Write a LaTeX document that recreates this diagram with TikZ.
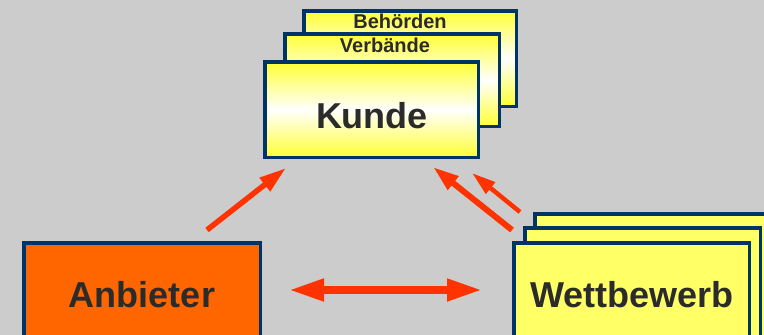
\documentclass[tikz,border=0pt]{standalone}
\usepackage{fontspec}
\setmainfont{Liberation Sans}
\usetikzlibrary{arrows.meta}
\definecolor{bg}{HTML}{CCCCCC}
\definecolor{frame}{HTML}{003366}
\definecolor{ylw}{HTML}{FFFF33}
\definecolor{ylwflat}{HTML}{FFFF66}
\definecolor{orng}{HTML}{FF6600}
\definecolor{arr}{HTML}{FF3300}
\definecolor{txt}{HTML}{2B2B2B}
\tikzset{
  box/.style={draw=frame, line width=3.5pt, inner sep=0pt, outer sep=0pt},
  gradbox/.style={box, top color=ylw, bottom color=ylw, middle color=white},
  flatbox/.style={box, fill=ylwflat},
  orangebox/.style={box, fill=orng},
  bigtext/.style={font=\fontsize{36}{40}\selectfont\bfseries, text=txt, anchor=base, inner sep=0pt},
  smalltext/.style={font=\fontsize{20}{22}\selectfont\bfseries, text=txt, anchor=base, inner sep=0pt},
  arrowline/.style={draw=arr, line cap=butt},
}
\begin{document}
\begin{tikzpicture}[x=1pt,y=-1pt]
\fill[bg] (0,0) rectangle (764,335);
\useasboundingbox (0,0) rectangle (764,335);
\clip (0,0) rectangle (764,335);
% Kunde stack
\node[gradbox, minimum width=212.5pt, minimum height=95.5pt] (behoerden) at (410,58.5) {};
\node[smalltext] (tbeh) at (400,28) {Behörden};
\node[gradbox, minimum width=214.5pt, minimum height=92.5pt] (verbaende) at (392,80) {};
\node[smalltext] (tverb) at (385,52) {Verbände};
\node[gradbox, minimum width=213.5pt, minimum height=95.5pt] (kunde) at (371.5,109.5) {};
\node[bigtext] (tkunde) at (372,128) {Kunde};
% Anbieter
\node[orangebox, minimum width=236.5pt, minimum height=105.5pt] (anbieter) at (142,295.5) {};
\node[bigtext] (tanb) at (142,307) {Anbieter};
% Wettbewerb stack
\node[flatbox, minimum width=235.5pt, minimum height=134.5pt] (wett3) at (652.5,281) {};
\node[flatbox, minimum width=235.5pt, minimum height=120.5pt] (wett2) at (642.5,288) {};
\node[flatbox, minimum width=235.5pt, minimum height=105.5pt] (wett) at (631.5,295.5) {};
\node[bigtext] (twett) at (632,307) {Wettbewerb};
% arrow end points
\coordinate (a1s) at (207,230);
\coordinate (a1e) at (286,168);
\coordinate (a2s) at (289,290);
\coordinate (a2e) at (482,290);
\coordinate (a3s) at (512,230);
\coordinate (a3e) at (433,167);
\coordinate (a4s) at (520,212);
\coordinate (a4e) at (472,173);
\draw[arrowline, line width=5.5pt, -{Triangle[length=27pt,width=16pt]}] (a1s) -- (a1e);
\draw[arrowline, line width=7.5pt, {Triangle[length=35pt,width=21pt]}-{Triangle[length=35pt,width=21pt]}] (a2s) -- (a2e);
\draw[arrowline, line width=6pt, -{Triangle[length=26pt,width=16pt]}] (a3s) -- (a3e);
\draw[arrowline, line width=4.5pt, -{Triangle[length=24pt,width=14pt]}] (a4s) -- (a4e);
\end{tikzpicture}
\end{document}
